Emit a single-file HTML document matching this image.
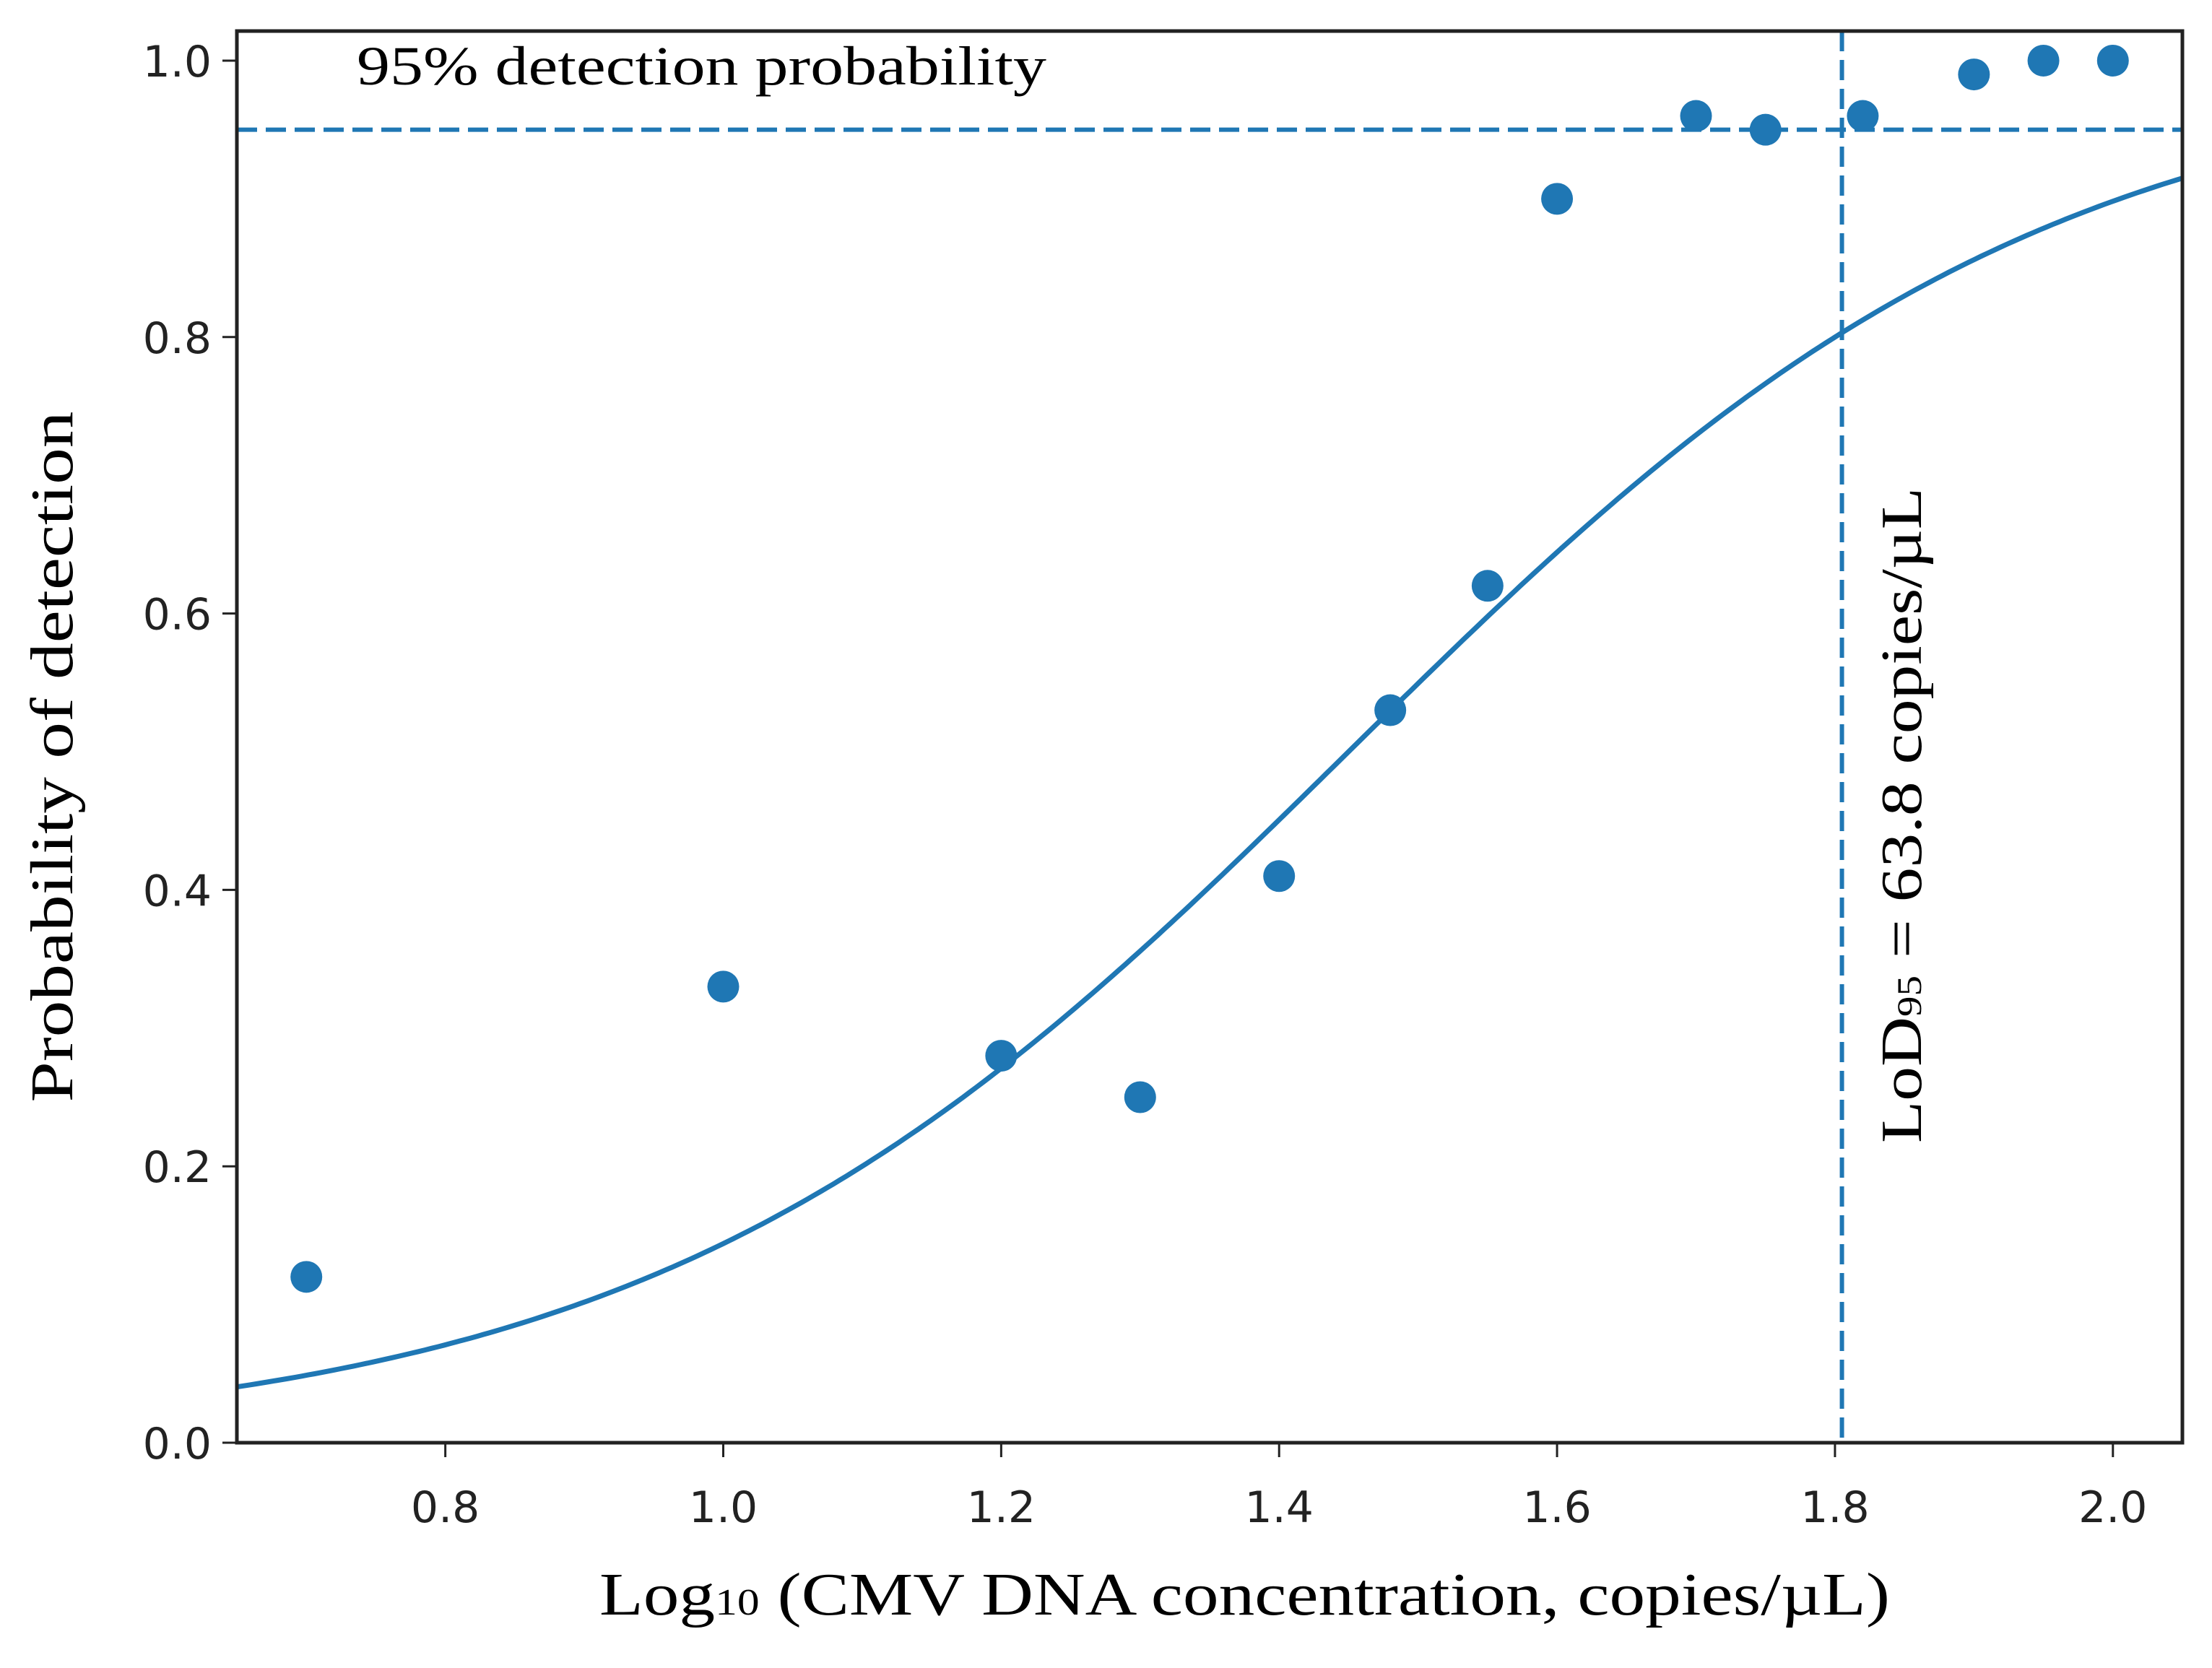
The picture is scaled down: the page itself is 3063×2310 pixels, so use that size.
<!DOCTYPE html>
<html><head><meta charset="utf-8"><style>html,body{margin:0;padding:0;background:#fff}svg{display:block}</style></head>
<body>
<svg id="chart" width="3063" height="2310" xmlns="http://www.w3.org/2000/svg">
<g id="plot"></g>
</svg>
<script>
const xTicks=[0.8,1.0,1.2,1.4,1.6,1.8,2.0];
const xTickLabels=["0.8","1.0","1.2","1.4","1.6","1.8","2.0"];
const yTicks=[0.0,0.2,0.4,0.6,0.8,1.0];
const yTickLabels=["0.0","0.2","0.4","0.6","0.8","1.0"];
const pointX=[0.7,1.0,1.2,1.3,1.4,1.48,1.55,1.6,1.7,1.75,1.82,1.9,1.95,2.0];
const pointY=[0.12,0.33,0.28,0.25,0.41,0.53,0.62,0.90,0.96,0.95,0.96,0.99,1.0,1.0];
const fitK=[3.96];
const fitX0=[1.45];
const thresholdY=[0.95];
const lodX=[1.805];

const L=328,R=3022,T=43,B=1998;
const xMin=0.65,xMax=2.05,yMin=0,yMax=1.0214;
const sx=v=>L+(v-xMin)/(xMax-xMin)*(R-L);
const sy=v=>B-(v-yMin)/(yMax-yMin)*(B-T);
const NS="http://www.w3.org/2000/svg";
const g=document.getElementById('plot');
function mk(tag,attrs,parent){const e=document.createElementNS(NS,tag);for(const k in attrs)e.setAttribute(k,attrs[k]);(parent||g).appendChild(e);return e;}
const C="#1f77b4";

let d="";
for(let i=0;i<=300;i++){const x=xMin+(xMax-xMin)*i/300;const y=1/(1+Math.exp(-fitK[0]*(x-fitX0[0])));d+=(i?"L":"M")+sx(x).toFixed(1)+","+sy(y).toFixed(1);}
const curve=mk('path',{d:d,fill:'none',stroke:C,'stroke-width':7});



const hl=mk('line',{x1:L,x2:R,y1:sy(thresholdY[0]),y2:sy(thresholdY[0]),stroke:C,'stroke-width':6,'stroke-dasharray':'28,12'});


const vl=mk('line',{x1:sx(lodX[0]),x2:sx(lodX[0]),y1:T,y2:B,stroke:C,'stroke-width':6,'stroke-dasharray':'28,12'});



pointX.forEach((x,i)=>{
  const c=mk('circle',{cx:sx(x),cy:sy(pointY[i]),r:22,fill:C});
  
  
});

const fr=mk('rect',{x:L,y:T,width:R-L,height:B-T,fill:'none',stroke:'#222','stroke-width':5});



xTicks.forEach((v,i)=>{
  const t=mk('line',{x1:sx(v),x2:sx(v),y1:B,y2:B+20,stroke:'#222','stroke-width':3});
  
  
  const tx=mk('text',{x:sx(v),y:2108,'text-anchor':'middle','font-family':'DejaVu Sans, sans-serif','font-size':60,fill:'#222'});
  tx.textContent=xTickLabels[i];
  
  
});
yTicks.forEach((v,i)=>{
  const t=mk('line',{x1:L-20,x2:L,y1:sy(v),y2:sy(v),stroke:'#222','stroke-width':3});
  
  
  const tx=mk('text',{x:293,y:sy(v)+22,'text-anchor':'end','font-family':'DejaVu Sans, sans-serif','font-size':60,fill:'#222'});
  tx.textContent=yTickLabels[i];
  
  
});
</script>
<svg style="position:absolute;left:0;top:0" width="3063" height="2310" xmlns="http://www.w3.org/2000/svg">
<text x="830" y="2236" font-family="Liberation Serif, serif" font-size="84" textLength="1787" lengthAdjust="spacingAndGlyphs">Log<tspan font-size="52">10</tspan> (CMV DNA concentration, copies/µL)</text>
<text transform="translate(100,1048) rotate(-90)" text-anchor="middle" font-family="Liberation Serif, serif" font-size="84" textLength="957" lengthAdjust="spacingAndGlyphs">Probability of detection</text>
<text x="494" y="117" font-family="Liberation Serif, serif" font-size="76" textLength="955" lengthAdjust="spacingAndGlyphs">95% detection probability</text>
<text transform="translate(2660,1129) rotate(-90)" text-anchor="middle" font-family="Liberation Serif, serif" font-size="80" textLength="908" lengthAdjust="spacingAndGlyphs">LoD<tspan font-size="48">95</tspan> = 63.8 copies/µL</text>
</svg>
</body></html>
